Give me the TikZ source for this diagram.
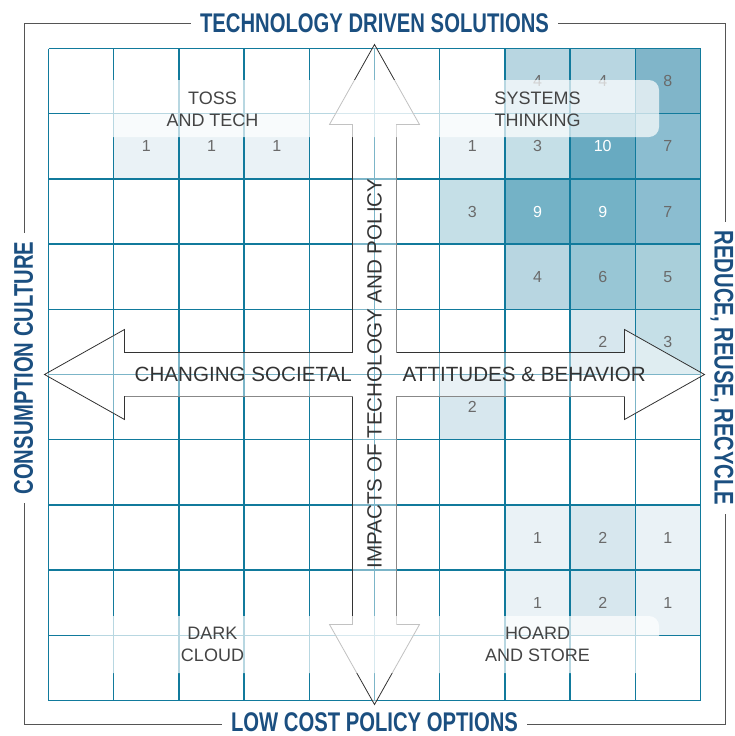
\documentclass[tikz,border=0pt]{standalone}
\usepackage{fontspec}
\setmainfont{Liberation Sans}
\newfontfamily\headfont[FakeStretch=0.75]{Liberation Sans Bold}
\usetikzlibrary{positioning}

\definecolor{gridblue}{HTML}{117A9C}
\definecolor{titleblue}{HTML}{1B4F80}
\definecolor{numgray}{HTML}{6A6A6A}
\definecolor{quadgray}{HTML}{444444}
\definecolor{axisgray}{HTML}{333333}
\definecolor{arrowdark}{HTML}{333333}
\definecolor{arrowlight}{HTML}{888888}
\definecolor{framegray}{HTML}{555555}
\definecolor{val1}{HTML}{EAF2F6}
\definecolor{val2}{HTML}{D7E7EE}
\definecolor{val3}{HTML}{C5DFE7}
\definecolor{val4}{HTML}{B8D6E1}
\definecolor{val5}{HTML}{A9CFDA}
\definecolor{val6}{HTML}{98C6D5}
\definecolor{val7}{HTML}{8BBDD0}
\definecolor{val8}{HTML}{80B5C9}
\definecolor{val9}{HTML}{74B2C6}
\definecolor{val10}{HTML}{68AAC1}

\begin{document}
\begin{tikzpicture}[x=1pt, y=-1pt,
		cell/.style={rectangle, inner sep=0pt, minimum size=65.2pt, font=\fontsize{16}{16}\selectfont},
		gridline/.style={gridblue, line width=1.5pt},
		veil/.style={fill=white, fill opacity=0.7, rounded corners=10pt},
		crossfill/.style={fill=white, fill opacity=0.45, draw=arrowdark, line width=0.8pt},
		crossgray/.style={draw=arrowlight, line width=0.8pt},
		quad/.style={align=center, text=quadgray, inner sep=0pt, font=\fontsize{18}{22}\selectfont},
		axis/.style={text=axisgray, inner sep=0pt, font=\fontsize{20.6}{20.6}\selectfont},
		frameline/.style={draw=framegray, line width=1pt},
		title/.style={fill=white, text=titleblue, inner xsep=9pt, inner ysep=0pt, font=\headfont\fontsize{27}{27}\selectfont}]
	\useasboundingbox (0,0) rectangle (735,736);

	\foreach \c/\r/\v/\t in {7/0/4/numgray, 8/0/4/numgray, 9/0/8/numgray,
			1/1/1/numgray, 2/1/1/numgray, 3/1/1/numgray, 6/1/1/numgray, 7/1/3/numgray, 8/1/10/white, 9/1/7/numgray,
			6/2/3/numgray, 7/2/9/white, 8/2/9/white, 9/2/7/numgray,
			7/3/4/numgray, 8/3/6/numgray, 9/3/5/numgray,
			8/4/2/numgray, 9/4/3/numgray,
			6/5/2/numgray,
			7/7/1/numgray, 8/7/2/numgray, 9/7/1/numgray,
			7/8/1/numgray, 8/8/2/numgray, 9/8/1/numgray}
		\node [cell, fill=val\v, text=\t] (n\c\r) at ({81.1+65.2*\c},{81.1+65.2*\r}) {\v};

	\foreach \i in {0,...,10} {
		\draw [gridline] ({48.5+65.2*\i},48.5) -- ({48.5+65.2*\i},700.5);
		\draw [gridline] (48.5,{48.5+65.2*\i}) -- (700.5,{48.5+65.2*\i});
	}

	\coordinate (mid) at (374.5,374.5);
	\begin{scope}[shift={(mid)}]
		\draw [crossfill] (0,-330) -- (45,-250) -- (22,-250) -- (22,-22) -- (250,-22) -- (250,-45)
			-- (330,0) -- (250,45) -- (250,22) -- (22,22) -- (22,250) -- (45,250)
			-- (0,330) -- (-45,250) -- (-22,250) -- (-22,22) -- (-250,22) -- (-250,45)
			-- (-330,0) -- (-250,-45) -- (-250,-22) -- (-22,-22) -- (-22,-250) -- (-45,-250) -- cycle;
		\draw [crossgray] (22,-250) -- (22,-22);
		\draw [crossgray] (22,250) -- (22,22) -- (250,22);
		\draw [crossgray] (-250,22) -- (-22,22);
	\end{scope}

	\fill [veil] (90,80) rectangle (659,137);
	\fill [veil] (90,616) rectangle (659,673);

	\node [quad] (toss) at (212.5,109.3) {TOSS\\AND TECH};
	\node [quad] (systems) at (537.5,109.3) {SYSTEMS\\THINKING};
	\node [quad] (dark) at (212.5,644.7) {DARK\\CLOUD};
	\node [quad] (hoard) at (537.5,644.7) {HOARD\\AND STORE};

	\node [axis, anchor=east] (societal) at (352,374.5) {CHANGING SOCIETAL};
	\node [axis, anchor=west] (attitudes) at (402.5,374.5) {ATTITUDES \& BEHAVIOR};
	\node [axis, rotate=90] (impacts) at (374.5,373.5) {IMPACTS OF TECHOLOGY AND POLICY};

	\draw [frameline] (24,23) rectangle (725,724);
	\node [title] (top) at (374.5,23) {TECHNOLOGY DRIVEN SOLUTIONS};
	\node [title] (bottom) at (374.5,722) {LOW COST POLICY OPTIONS};
	\node [title, rotate=90] (left) at (23.5,368) {CONSUMPTION CULTURE};
	\node [title, rotate=-90] (right) at (722,368) {REDUCE, REUSE, RECYCLE};
\end{tikzpicture}
\end{document}
